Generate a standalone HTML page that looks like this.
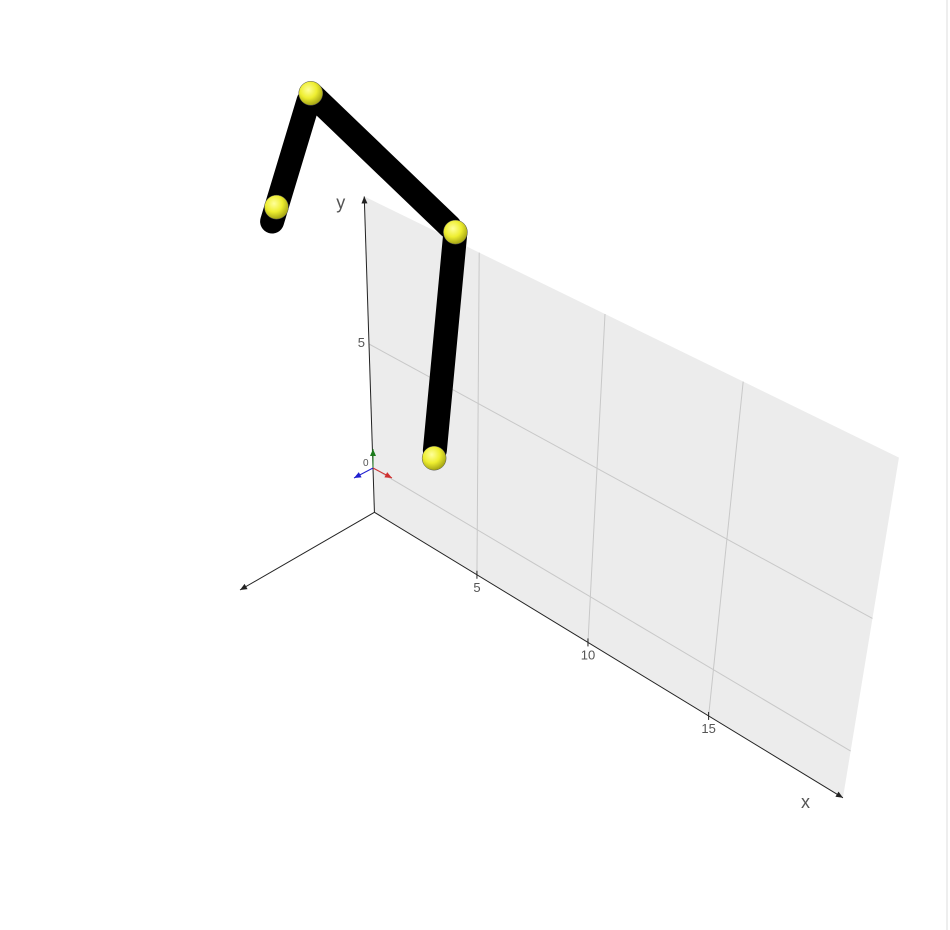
<!DOCTYPE html>
<html><head><meta charset="utf-8"><style>
html,body{margin:0;padding:0;background:#fff;width:950px;height:930px;overflow:hidden}
svg{display:block}
text{font-family:"Liberation Sans",sans-serif;fill:#555}
</style></head><body>
<svg id="chart" width="950" height="930" viewBox="0 0 950 930">
<defs>
<radialGradient id="ball" cx="0.4" cy="0.35" r="0.7">
<stop offset="0" stop-color="#ffff9a"/><stop offset="0.5" stop-color="#eeee30"/><stop offset="1" stop-color="#9a9a10"/>
</radialGradient>
</defs>
<line x1="947" y1="0" x2="947" y2="930" stroke="#ddd" stroke-width="1"/>
<g id="plane"></g>
<g id="axes"></g>
<g id="arm"></g>
</svg>
<script>
// chart data
const xTicks = [5, 10, 15];
const yTicks = [0, 5];
const xRange = [0, 20.1];
const yRange = [-1.9, 10.4];
const jointX = [3.0, 4.0, -2.3, -4.3];
const jointY = [1.9, 10.7, 13.1, 8.4];

// projection: homography from plane (x,y) to screen
const Q = [[373,468],[713.4,669.7],[726.9,539.1],[369,344]]; // (0,0),(15,0),(15,5),(0,5)
const SX = 15, SY = 5;
const H = (function(){
  const [x0,y0]=Q[0],[x1,y1]=Q[1],[x2,y2]=Q[2],[x3,y3]=Q[3];
  const dx1=x1-x2,dx2=x3-x2,dx3=x0-x1+x2-x3,dy1=y1-y2,dy2=y3-y2,dy3=y0-y1+y2-y3;
  const den=dx1*dy2-dx2*dy1;
  const g=(dx3*dy2-dx2*dy3)/den,h=(dx1*dy3-dx3*dy1)/den;
  return {a:x1-x0+g*x1,b:x3-x0+h*x3,c:x0,d:y1-y0+g*y1,e:y3-y0+h*y3,f:y0,g:g,h:h};
})();
function proj(x,y){
  const u=x/SX,v=y/SY,w=H.g*u+H.h*v+1;
  return [(H.a*u+H.b*v+H.c)/w,(H.d*u+H.e*v+H.f)/w];
}
const NS='http://www.w3.org/2000/svg';
function mk(tag,attrs,parent){const el=document.createElementNS(NS,tag);for(const k in attrs)el.setAttribute(k,attrs[k]);parent.appendChild(el);return el;}

const plane=document.getElementById('plane');
const c=[proj(xRange[0],yRange[0]),proj(xRange[1],yRange[0]),proj(xRange[1],yRange[1]),proj(xRange[0],yRange[1])];
const poly=mk('polygon',{points:c.map(p=>p.join(',')).join(' '),fill:'#ececec'},plane);


xTicks.forEach(t=>{
  const a=proj(t,yRange[0]),b=proj(t,yRange[1]);
  const l=mk('line',{x1:a[0],y1:a[1],x2:b[0],y2:b[1],stroke:'#c8c8c8','stroke-width':1},plane);
  
  
});
yTicks.forEach(t=>{
  const a=proj(xRange[0],t),b=proj(xRange[1],t);
  const l=mk('line',{x1:a[0],y1:a[1],x2:b[0],y2:b[1],stroke:'#c8c8c8','stroke-width':1},plane);
  
  
});

const axes=document.getElementById('axes');
const O=proj(0,yRange[0]);
const XE=proj(xRange[1],yRange[0]);
const YE=proj(0,yRange[1]);
function arrowLine(a,b,name,col){
  const l=mk('line',{x1:a[0],y1:a[1],x2:b[0],y2:b[1],stroke:col,'stroke-width':1},axes);
  
  
  const dx=b[0]-a[0],dy=b[1]-a[1],L=Math.hypot(dx,dy),ux=dx/L,uy=dy/L;
  const p=[b,[b[0]-ux*7-uy*3,b[1]-uy*7+ux*3],[b[0]-ux*7+uy*3,b[1]-uy*7-ux*3]];
  const t=mk('polygon',{points:p.map(q=>q.join(',')).join(' '),fill:col},axes);
  
  
}
arrowLine(O,XE,'x-axis','#222');
arrowLine(O,YE,'y-axis','#222');
arrowLine(O,[240,590],'z-axis','#222');
xTicks.forEach(t=>{
  const p=proj(t,yRange[0]);
  const tk=mk('line',{x1:p[0],y1:p[1]-4,x2:p[0],y2:p[1]+4,stroke:'#222'},axes);
  
  
  const tx=mk('text',{x:p[0],y:p[1]+17,'text-anchor':'middle',style:'font-size:13px'},axes);
  tx.textContent=t;
  
  
});
const y5=proj(0,5);
const yt=mk('text',{x:y5[0]-4,y:y5[1]+3,'text-anchor':'end',style:'font-size:13px'},axes);
yt.textContent='5';


const xl=mk('text',{x:XE[0]-42,y:XE[1]+10,style:'font-size:18px'},axes);
xl.textContent='x';


const yl=mk('text',{x:YE[0]-28,y:YE[1]+12,style:'font-size:18px'},axes);
yl.textContent='y';


// origin triad
const P0=proj(0,0);
[['#1a7a1a',[0,-19],'triad-y'],['#d03030',[19,10],'triad-x'],['#2020d0',[-19,10],'triad-z']].forEach(([col,d,n])=>{
  arrowLine(P0,[P0[0]+d[0],P0[1]+d[1]],n,col);
});
const zl=mk('text',{x:P0[0]-10,y:P0[1]-2,style:'font-size:10px'},axes);
zl.textContent='0';



// arm
const arm=document.getElementById('arm');
const J=jointX.map((x,i)=>proj(x,jointY[i]));
for(let i=0;i<J.length-1;i++){
  let a=J[i],b=J[i+1];
  const dx=b[0]-a[0],dy=b[1]-a[1],L=Math.hypot(dx,dy),ux=dx/L,uy=dy/L;
  let ax=a[0]+ux*8,ay=a[1]+uy*8,bx=b[0],by=b[1];
  if(i===J.length-2){bx+=ux*15;by+=uy*15;}
  const s=mk('line',{x1:ax,y1:ay,x2:bx,y2:by,stroke:'#000','stroke-width':24,'stroke-linecap':'round'},arm);
  
  
}
J.forEach(p=>{
  const b=mk('circle',{cx:p[0],cy:p[1],r:12,fill:'url(#ball)',stroke:'#555','stroke-width':0.5},arm);
  
  
});
</script>
</body></html>
